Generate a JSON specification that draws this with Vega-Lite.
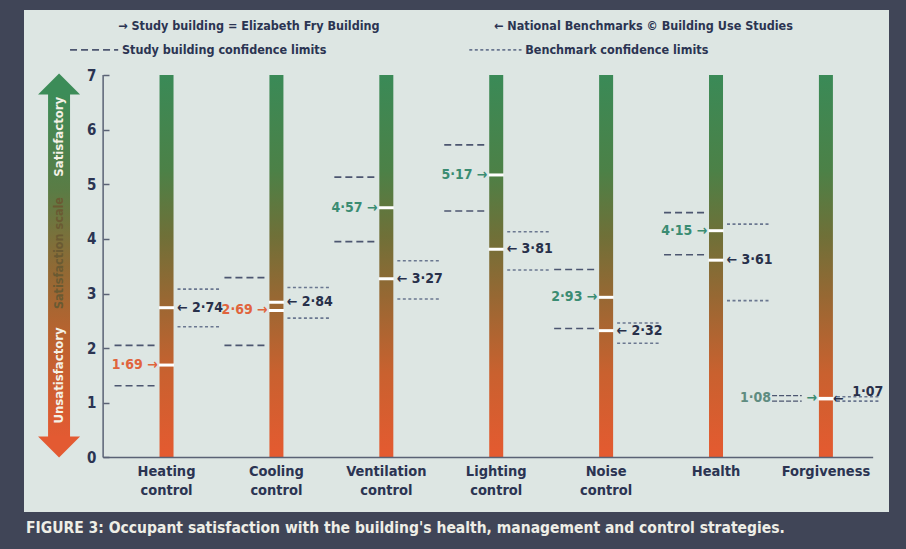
{
  "$schema": "https://vega.github.io/schema/vega-lite/v6.json",
  "width": 865,
  "height": 502,
  "autosize": {"type": "none"},
  "padding": {"left": 24, "top": 10, "right": 17, "bottom": 37},
  "background": "#404557",
  "config": {
    "font": "DejaVu Sans Condensed, Liberation Sans Narrow, DejaVu Sans, sans-serif",
    "view": {"fill": "#dde6e3", "stroke": null}
  },
  "title": {
    "text": "FIGURE 3: Occupant satisfaction with the building's health, management and control strategies.",
    "orient": "bottom",
    "anchor": "start",
    "color": "#eeeee6",
    "fontSize": 15.5,
    "fontWeight": "bold",
    "offset": 9,
    "dx": 2
  },
  "datasets": {
    "scores": [
      {"cat": "Heating control", "study": 1.69, "s_lo": 1.31, "s_hi": 2.05, "bench": 2.74, "b_lo": 2.39, "b_hi": 3.08},
      {"cat": "Cooling control", "study": 2.69, "s_lo": 2.05, "s_hi": 3.29, "bench": 2.84, "b_lo": 2.55, "b_hi": 3.11},
      {"cat": "Ventilation control", "study": 4.57, "s_lo": 3.95, "s_hi": 5.13, "bench": 3.27, "b_lo": 2.9, "b_hi": 3.6},
      {"cat": "Lighting control", "study": 5.17, "s_lo": 4.51, "s_hi": 5.72, "bench": 3.81, "b_lo": 3.43, "b_hi": 4.13},
      {"cat": "Noise control", "study": 2.93, "s_lo": 2.36, "s_hi": 3.44, "bench": 2.32, "b_lo": 2.09, "b_hi": 2.46},
      {"cat": "Health", "study": 4.15, "s_lo": 3.71, "s_hi": 4.48, "bench": 3.61, "b_lo": 2.87, "b_hi": 4.27},
      {"cat": "Forgiveness", "study": 1.08, "s_lo": 1.03, "s_hi": 1.13, "bench": 1.07, "b_lo": 1.03, "b_hi": 1.11}
    ]
  },
  "layer": [
    {
      "data": {"name": "scores"},
      "mark": {
        "type": "bar",
        "size": 14,
        "color": {
          "gradient": "linear", "x1": 0, "y1": 1, "x2": 0, "y2": 0,
          "stops": [
            {"offset": 0, "color": "#e55a30"},
            {"offset": 0.22, "color": "#c9612f"},
            {"offset": 0.42, "color": "#976833"},
            {"offset": 0.58, "color": "#6f7038"},
            {"offset": 0.75, "color": "#4c8147"},
            {"offset": 1, "color": "#3a8a57"}
          ]
        }
      },
      "encoding": {
        "x": {
          "field": "cat", "type": "nominal",
          "scale": {
            "type": "band",
            "domain": ["Heating control", "Cooling control", "Ventilation control", "Lighting control", "Noise control", "Health", "Forgiveness"],
            "paddingInner": 0, "paddingOuter": 0.4355, "align": 0.915
          },
          "axis": {
            "orient": "bottom", "offset": -54, "domain": false, "ticks": false,
            "labelPadding": 6, "labelExpr": "split(datum.label, ' ')",
            "labelFontSize": 14.5, "labelFontWeight": "bold", "labelColor": "#2b3452",
            "labelLineHeight": 19, "labelAngle": 0, "title": null
          }
        },
        "y": {
          "datum": 7, "type": "quantitative",
          "scale": {"domain": [-1.0, 8.19], "nice": false, "zero": false},
          "axis": {
            "orient": "left", "offset": -85, "values": [0, 1, 2, 3, 4, 5, 6, 7], "format": "d",
            "domain": false, "grid": false, "ticks": true, "tickSize": 6,
            "tickColor": "#5a6275", "tickWidth": 1.5, "labelPadding": 7,
            "labelFontSize": 15, "labelFontWeight": "bold", "labelColor": "#2b3452",
            "title": null
          }
        },
        "y2": {"datum": 0}
      }
    },
    {
      "data": {"name": "scores"},
      "transform": [{"filter": "datum.cat != 'Forgiveness'"}, {"fold": ["s_lo", "s_hi"], "as": ["k", "v"]}],
      "mark": {"type": "rule", "strokeDash": [7, 4], "strokeWidth": 1.6, "color": "#4c5670"},
      "encoding": {
        "x": {"field": "cat", "type": "nominal", "bandPosition": 0.027},
        "x2": {"field": "cat", "bandPosition": 0.427},
        "y": {"field": "v", "type": "quantitative"}
      }
    },
    {
      "data": {"name": "scores"},
      "transform": [{"filter": "datum.cat == 'Forgiveness'"}, {"fold": ["s_lo", "s_hi"], "as": ["k", "v"]}],
      "mark": {"type": "rule", "strokeDash": [5, 2], "strokeWidth": 1.4, "color": "#4c5670"},
      "encoding": {
        "x": {"field": "cat", "type": "nominal", "bandPosition": 0.01},
        "x2": {"field": "cat", "bandPosition": 0.28},
        "y": {"field": "v", "type": "quantitative"}
      }
    },
    {
      "data": {"name": "scores"},
      "transform": [{"fold": ["b_lo", "b_hi"], "as": ["k", "v"]}],
      "mark": {"type": "rule", "strokeDash": [3, 2.5], "strokeWidth": 1.6, "color": "#6a7790"},
      "encoding": {
        "x": {"field": "cat", "type": "nominal", "bandPosition": 0.6},
        "x2": {"field": "cat", "bandPosition": 0.99},
        "y": {"field": "v", "type": "quantitative"}
      }
    },
    {
      "data": {"name": "scores"},
      "mark": {"type": "tick", "orient": "horizontal", "thickness": 3, "size": 15, "color": "#ffffff", "opacity": 1},
      "encoding": {
        "x": {"field": "cat", "type": "nominal"},
        "y": {"field": "study", "type": "quantitative"}
      }
    },
    {
      "data": {"name": "scores"},
      "mark": {"type": "tick", "orient": "horizontal", "thickness": 3, "size": 15, "color": "#ffffff", "opacity": 1},
      "encoding": {
        "x": {"field": "cat", "type": "nominal"},
        "y": {"field": "bench", "type": "quantitative"}
      }
    },
    {
      "data": {"name": "scores"},
      "transform": [
        {"filter": "datum.cat != 'Forgiveness'"},
        {"calculate": "replace(format(datum.study, '.2f'), '.', '·') + ' →'", "as": "slabel"},
        {"calculate": "datum.study < datum.bench ? 'below benchmark' : 'at or above benchmark'", "as": "tone"}
      ],
      "mark": {"type": "text", "align": "right", "baseline": "middle", "fontSize": 14, "fontWeight": "bold"},
      "encoding": {
        "x": {"field": "cat", "type": "nominal", "bandPosition": 0.42},
        "y": {"field": "study", "type": "quantitative"},
        "text": {"field": "slabel"},
        "color": {
          "field": "tone", "type": "nominal",
          "scale": {"domain": ["below benchmark", "at or above benchmark"], "range": ["#e0643c", "#3a8c72"]},
          "legend": null
        }
      }
    },
    {
      "data": {"name": "scores"},
      "transform": [
        {"filter": "datum.cat == 'Forgiveness'"},
        {"calculate": "replace(format(datum.study, '.2f'), '.', '·')", "as": "slabel"}
      ],
      "mark": {"type": "text", "align": "right", "baseline": "middle", "fontSize": 14, "fontWeight": "bold", "color": "#5f8c80"},
      "encoding": {
        "x": {"field": "cat", "type": "nominal", "bandPosition": 0.0},
        "y": {"field": "study", "type": "quantitative"},
        "text": {"field": "slabel"}
      }
    },
    {
      "data": {"name": "scores"},
      "transform": [{"filter": "datum.cat == 'Forgiveness'"}],
      "mark": {"type": "text", "align": "right", "baseline": "middle", "fontSize": 14, "fontWeight": "bold", "color": "#3a8c72", "text": "→"},
      "encoding": {
        "x": {"field": "cat", "type": "nominal", "bandPosition": 0.42},
        "y": {"field": "study", "type": "quantitative"}
      }
    },
    {
      "data": {"name": "scores"},
      "transform": [
        {"filter": "datum.cat != 'Forgiveness'"},
        {"calculate": "'← ' + replace(format(datum.bench, '.2f'), '.', '·')", "as": "blabel"}
      ],
      "mark": {"type": "text", "align": "left", "baseline": "middle", "fontSize": 14, "fontWeight": "bold", "color": "#28304a"},
      "encoding": {
        "x": {"field": "cat", "type": "nominal", "bandPosition": 0.595},
        "y": {"field": "bench", "type": "quantitative"},
        "text": {"field": "blabel"}
      }
    },
    {
      "data": {"name": "scores"},
      "transform": [{"filter": "datum.cat == 'Forgiveness'"}],
      "mark": {"type": "text", "align": "left", "baseline": "middle", "fontSize": 14, "fontWeight": "bold", "color": "#28304a", "text": "←"},
      "encoding": {
        "x": {"field": "cat", "type": "nominal", "bandPosition": 0.565},
        "y": {"field": "bench", "type": "quantitative"}
      }
    },
    {
      "data": {"name": "scores"},
      "transform": [
        {"filter": "datum.cat == 'Forgiveness'"},
        {"calculate": "replace(format(datum.bench, '.2f'), '.', '·')", "as": "blabel"}
      ],
      "mark": {"type": "text", "align": "left", "baseline": "bottom", "fontSize": 14, "fontWeight": "bold", "color": "#28304a"},
      "encoding": {
        "x": {"field": "cat", "type": "nominal", "bandPosition": 0.74},
        "y": {"field": "bench", "type": "quantitative"},
        "text": {"field": "blabel"}
      }
    },
    {
      "data": {"values": [{}]},
      "mark": {"type": "rule", "color": "#5a6275", "strokeWidth": 1.5},
      "encoding": {
        "x": {"datum": "Heating control", "bandPosition": -0.077},
        "y": {"datum": 0, "type": "quantitative"},
        "y2": {"datum": 7}
      }
    },
    {
      "data": {"values": [{}]},
      "mark": {"type": "rule", "color": "#5a6275", "strokeWidth": 1.5},
      "encoding": {
        "x": {"datum": "Heating control", "bandPosition": -0.077},
        "x2": {"datum": "Forgiveness", "bandPosition": 0.93},
        "y": {"datum": 0, "type": "quantitative"}
      }
    },
    {
      "data": {"values": [{}]},
      "mark": {
        "type": "bar",
        "color": {
          "gradient": "linear", "x1": 0, "y1": 1, "x2": 0, "y2": 0,
          "stops": [
            {"offset": 0, "color": "#e35a32"},
            {"offset": 0.3, "color": "#b9632f"},
            {"offset": 0.5, "color": "#8e6a35"},
            {"offset": 0.72, "color": "#5a7c45"},
            {"offset": 1, "color": "#3c8c58"}
          ]
        }
      },
      "encoding": {
        "x": {"datum": "Heating control", "bandPosition": -0.578},
        "x2": {"datum": "Heating control", "bandPosition": -0.378},
        "y": {"datum": 0.36, "type": "quantitative"},
        "y2": {"datum": 6.66}
      }
    },
    {
      "data": {"values": [{}]},
      "mark": {"type": "point", "shape": "M-1,0.5L0,-0.5L1,0.5Z", "size": 1764, "filled": true, "color": "#3c8c58", "opacity": 1},
      "encoding": {
        "x": {"datum": "Heating control", "bandPosition": -0.478},
        "y": {"datum": 6.835, "type": "quantitative"}
      }
    },
    {
      "data": {"values": [{}]},
      "mark": {"type": "point", "shape": "M-1,-0.5L0,0.5L1,-0.5Z", "size": 1764, "filled": true, "color": "#e35a32", "opacity": 1},
      "encoding": {
        "x": {"datum": "Heating control", "bandPosition": -0.478},
        "y": {"datum": 0.19, "type": "quantitative"}
      }
    },
    {
      "data": {"values": [{"t": "Satisfactory"}]},
      "mark": {"type": "text", "angle": 270, "align": "center", "baseline": "middle", "fontSize": 13, "fontWeight": "bold", "color": "#f4f1e6"},
      "encoding": {
        "x": {"datum": "Heating control", "bandPosition": -0.478},
        "y": {"datum": 5.87, "type": "quantitative"},
        "text": {"field": "t"}
      }
    },
    {
      "data": {"values": [{"t": "Satisfaction scale"}]},
      "mark": {"type": "text", "angle": 270, "align": "center", "baseline": "middle", "fontSize": 12.5, "fontWeight": "bold", "color": "#6a5a32"},
      "encoding": {
        "x": {"datum": "Heating control", "bandPosition": -0.478},
        "y": {"datum": 3.74, "type": "quantitative"},
        "text": {"field": "t"}
      }
    },
    {
      "data": {"values": [{"t": "Unsatisfactory"}]},
      "mark": {"type": "text", "angle": 270, "align": "center", "baseline": "middle", "fontSize": 13, "fontWeight": "bold", "color": "#f4f1e6"},
      "encoding": {
        "x": {"datum": "Heating control", "bandPosition": -0.478},
        "y": {"datum": 1.5, "type": "quantitative"},
        "text": {"field": "t"}
      }
    },
    {
      "data": {"values": [{"t": "→ Study building = Elizabeth Fry Building"}]},
      "mark": {"type": "text", "align": "left", "baseline": "middle", "fontSize": 12.5, "fontWeight": "bold", "color": "#2b3452"},
      "encoding": {
        "x": {"datum": "Heating control", "bandPosition": 0.06},
        "y": {"datum": 7.9, "type": "quantitative"},
        "text": {"field": "t"}
      }
    },
    {
      "data": {"values": [{"t": "← National Benchmarks © Building Use Studies"}]},
      "mark": {"type": "text", "align": "left", "baseline": "middle", "fontSize": 12.5, "fontWeight": "bold", "color": "#2b3452"},
      "encoding": {
        "x": {"datum": "Lighting control", "bandPosition": 0.48},
        "y": {"datum": 7.9, "type": "quantitative"},
        "text": {"field": "t"}
      }
    },
    {
      "data": {"values": [{}]},
      "mark": {"type": "rule", "strokeDash": [7, 4], "strokeWidth": 1.6, "color": "#4c5670"},
      "encoding": {
        "x": {"datum": "Heating control", "bandPosition": -0.378},
        "x2": {"datum": "Heating control", "bandPosition": 0.06},
        "y": {"datum": 7.46, "type": "quantitative"}
      }
    },
    {
      "data": {"values": [{"t": "Study building confidence limits"}]},
      "mark": {"type": "text", "align": "left", "baseline": "middle", "fontSize": 12.5, "fontWeight": "bold", "color": "#2b3452"},
      "encoding": {
        "x": {"datum": "Heating control", "bandPosition": 0.095},
        "y": {"datum": 7.46, "type": "quantitative"},
        "text": {"field": "t"}
      }
    },
    {
      "data": {"values": [{}]},
      "mark": {"type": "rule", "strokeDash": [3, 2.5], "strokeWidth": 1.6, "color": "#6a7790"},
      "encoding": {
        "x": {"datum": "Lighting control", "bandPosition": 0.255},
        "x2": {"datum": "Lighting control", "bandPosition": 0.73},
        "y": {"datum": 7.46, "type": "quantitative"}
      }
    },
    {
      "data": {"values": [{"t": "Benchmark confidence limits"}]},
      "mark": {"type": "text", "align": "left", "baseline": "middle", "fontSize": 12.5, "fontWeight": "bold", "color": "#2b3452"},
      "encoding": {
        "x": {"datum": "Lighting control", "bandPosition": 0.764},
        "y": {"datum": 7.46, "type": "quantitative"},
        "text": {"field": "t"}
      }
    }
  ]
}
